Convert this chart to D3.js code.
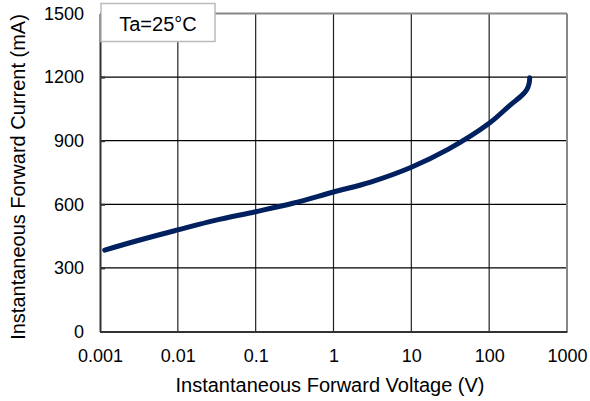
<!DOCTYPE html>
<html>
<head>
<meta charset="utf-8">
<script src="https://cdn.jsdelivr.net/npm/d3@7"></script>
<style>
  body { margin: 0; background: #fff; }
  text { font-family: "Liberation Sans", Arial, sans-serif; fill: #000; }
</style>
</head>
<body>
<div id="chart"></div>
<script>
// data: forward voltage (V) vs forward current (mA)
var voltage = [0.00115, 0.003, 0.01, 0.03, 0.1, 0.3, 1, 3, 10, 30, 100, 186, 265, 305, 326, 332];
var current = [384, 428, 479, 524, 565, 605, 658, 705, 775, 860, 982, 1068, 1115, 1142, 1170, 1197];
var xTicks = [0.001, 0.01, 0.1, 1, 10, 100, 1000];
var xTickLabels = ["0.001", "0.01", "0.1", "1", "10", "100", "1000"];
var yTicks = [0, 300, 600, 900, 1200, 1500];

var width = 590, height = 401;
var margin = {left: 100, right: 23, top: 13.5, bottom: 69.5};

var svg = d3.select("#chart").append("svg")
    .attr("width", width)
    .attr("height", height);

var x = d3.scaleLog().domain([0.001, 1000]).range([margin.left, width - margin.right]);
var y = d3.scaleLinear().domain([0, 1500]).range([height - margin.bottom, margin.top]);

// grid
svg.append("g")
    .selectAll("line")
    .data(xTicks.slice(1, -1))
    .join("line")
    .attr("x1", d => x(d)).attr("x2", d => x(d))
    .attr("y1", y(1500)).attr("y2", y(0))
    .attr("stroke", "#222").attr("stroke-width", 1.2);

svg.append("g")
    .selectAll("line")
    .data(yTicks.slice(1, -1))
    .join("line")
    .attr("x1", x(0.001)).attr("x2", x(1000))
    .attr("y1", d => y(d)).attr("y2", d => y(d))
    .attr("stroke", "#000").attr("stroke-width", 1.2);

// frame: top/right grey, left/bottom dark
svg.append("line")
    .attr("x1", x(0.001)).attr("x2", x(1000)).attr("y1", y(1500)).attr("y2", y(1500))
    .attr("stroke", "#888").attr("stroke-width", 2);
svg.append("line")
    .attr("x1", x(1000)).attr("x2", x(1000)).attr("y1", y(1500)).attr("y2", y(0))
    .attr("stroke", "#888").attr("stroke-width", 2);

var yAxis = svg.append("g")
    .attr("transform", "translate(" + margin.left + ",0)")
    .call(d3.axisLeft(y).tickValues(yTicks).tickFormat(d3.format("d"))
        .tickSizeInner(-5).tickSizeOuter(0).tickPadding(16));
yAxis.select(".domain").attr("stroke", "#333").attr("stroke-width", 2);
yAxis.selectAll(".tick line").attr("stroke", "#333").attr("stroke-width", 2);
yAxis.selectAll("text").style("font-size", "18px");

var xAxis = svg.append("g")
    .attr("transform", "translate(0," + (height - margin.bottom) + ")")
    .call(d3.axisBottom(x).tickValues(xTicks).tickFormat((d, i) => xTickLabels[i]).tickSize(0).tickPadding(18));
xAxis.select(".domain").attr("stroke", "#333").attr("stroke-width", 2);
xAxis.selectAll("text").style("font-size", "18px");

// curve
var line = d3.line()
    .x((d, i) => x(voltage[i]))
    .y((d, i) => y(current[i]))
    .curve(d3.curveCatmullRom.alpha(0.5));

svg.append("path")
    .datum(voltage)
    .attr("d", line)
    .attr("fill", "none")
    .attr("stroke", "#002060")
    .attr("stroke-width", 5)
    .attr("stroke-linecap", "round");

// legend box
svg.append("rect")
    .attr("x", 101).attr("y", 3.5)
    .attr("width", 114).attr("height", 38)
    .attr("fill", "#fff")
    .attr("stroke", "#bbb").attr("stroke-width", 1.5);
svg.append("text")
    .attr("x", 158).attr("y", 30.5)
    .attr("text-anchor", "middle")
    .style("font-size", "20px")
    .text("Ta=25°C");

// titles
svg.append("text")
    .attr("x", 330).attr("y", 391.5)
    .attr("text-anchor", "middle")
    .style("font-size", "20px")
    .text("Instantaneous Forward Voltage (V)");

svg.append("text")
    .attr("transform", "translate(25,177) rotate(-90)")
    .attr("text-anchor", "middle")
    .style("font-size", "20px")
    .text("Instantaneous Forward Current (mA)");
</script>
</body>
</html>
